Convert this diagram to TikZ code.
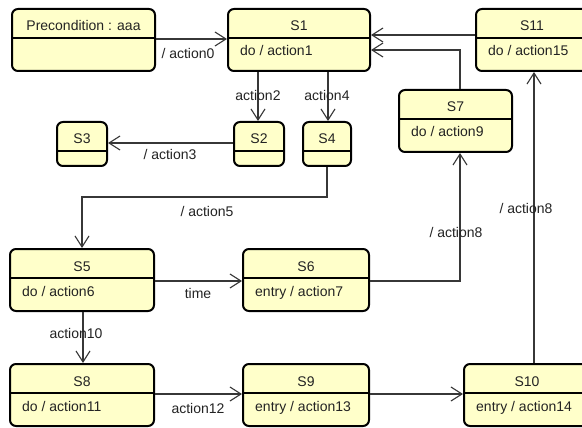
\documentclass[tikz,border=0pt]{standalone}
\usepackage{fontspec}
\setmainfont{Liberation Sans}
\usetikzlibrary{arrows.meta}
\definecolor{stfill}{RGB}{255,255,202}
\definecolor{lnc}{RGB}{55,55,55}
\definecolor{txc}{RGB}{35,35,35}
\tikzset{
  statebox/.style={draw=black, line width=2pt, fill=stfill, rounded corners=6pt, inner sep=0pt},
  divider/.style={draw=black, line width=1.1pt},
  ttl/.style={anchor=base, font=\fontsize{14}{16}\selectfont, text=txc, inner sep=0pt},
  bdy/.style={anchor=base west, font=\fontsize{14}{16}\selectfont, text=txc, inner sep=0pt},
  lbl/.style={anchor=base, font=\fontsize{14}{16}\selectfont, text=txc, inner sep=0pt},
  arr/.style={draw=lnc, line width=1.1pt, -{Straight Barb[length=11pt,width=14pt,line width=1.1pt]}},
}
% #1 name, #2 x1, #3 y1, #4 x2, #5 y2, #6 title, #7 body
\newcommand\mkstate[7]{%
  \node[statebox, minimum width={(#4)-(#2)}, minimum height={(#5)-(#3)}] (#1) at ({((#2)+(#4))/2},{((#3)+(#5))/2}) {};
  \draw[divider] (#1.west |- 0,{(#3)+29}) -- (#1.east |- 0,{(#3)+29});
  \node[ttl] (#1t) at ({((#2)+(#4))/2},{(#3)+22}) {#6};
  \node[bdy] (#1b) at ({(#2)+12},{(#3)+47}) {#7};
}
\begin{document}
\begin{tikzpicture}[x=1pt,y=-1pt]
\clip (0,0) rectangle (582,428);
\fill[white] (0,0) rectangle (582,428);
% states
\mkstate{P}{12}{9}{155}{71}{Precondition : aaa}{}
\mkstate{S1}{228}{9}{370}{71}{S1}{do / action1}
\mkstate{S11}{476}{9}{588}{71}{S11}{do / action15}
\mkstate{S7}{399}{90}{512}{152}{S7}{do / action9}
\mkstate{S3}{57}{122}{107}{166}{S3}{}
\mkstate{S2}{234}{122}{284}{166}{S2}{}
\mkstate{S4}{303}{122}{351}{166}{S4}{}
\mkstate{S5}{10}{249}{154}{311}{S5}{do / action6}
\mkstate{S6}{243}{249}{369}{311}{S6}{entry / action7}
\mkstate{S8}{10}{364}{154}{426}{S8}{do / action11}
\mkstate{S9}{243}{364}{369}{426}{S9}{entry / action13}
\mkstate{S10}{464}{364}{590}{426}{S10}{entry / action14}
% transitions
\draw[arr] (P.east |- 0,39) -- (S1.west |- 0,39);
\draw[arr] (S1.south -| 258,0) -- (S2.north -| 258,0);
\draw[arr] (S1.south -| 328,0) -- (S4.north -| 328,0);
\draw[arr] (S2.west |- 0,143) -- (S3.east |- 0,143);
\draw[arr] (S4.south -| 327,0) -- (327,197) -| (S5.north -| 82,0);
\draw[arr] (S5.east |- 0,281) -- (S6.west |- 0,281);
\draw[arr] (S6.east |- 0,281) -| (S7.south -| 460,0);
\draw[arr] (S7.north -| 460,0) |- (S1.east |- 0,50);
\draw[arr] (S11.west |- 0,35) -- (S1.east |- 0,35);
\draw[arr] (S5.south -| 83,0) -- (S8.north -| 83,0);
\draw[arr] (S8.east |- 0,394) -- (S9.west |- 0,394);
\draw[arr] (S9.east |- 0,394) -- (S10.west |- 0,394);
\draw[arr] (S10.north -| 534,0) -- (S11.south -| 534,0);
% labels
\node[lbl] (l0) at (188,59) {/ action0};
\node[lbl] (l2) at (258,101) {action2};
\node[lbl] (l4) at (327,101) {action4};
\node[lbl] (l3) at (170,160) {/ action3};
\node[lbl] (l5) at (207,216) {/ action5};
\node[lbl] (lt) at (198,298) {time};
\node[lbl] (l8a) at (456,237) {/ action8};
\node[lbl] (l8b) at (526,214) {/ action8};
\node[lbl] (l10) at (76,338) {action10};
\node[lbl] (l12) at (198,413) {action12};
\end{tikzpicture}
\end{document}
